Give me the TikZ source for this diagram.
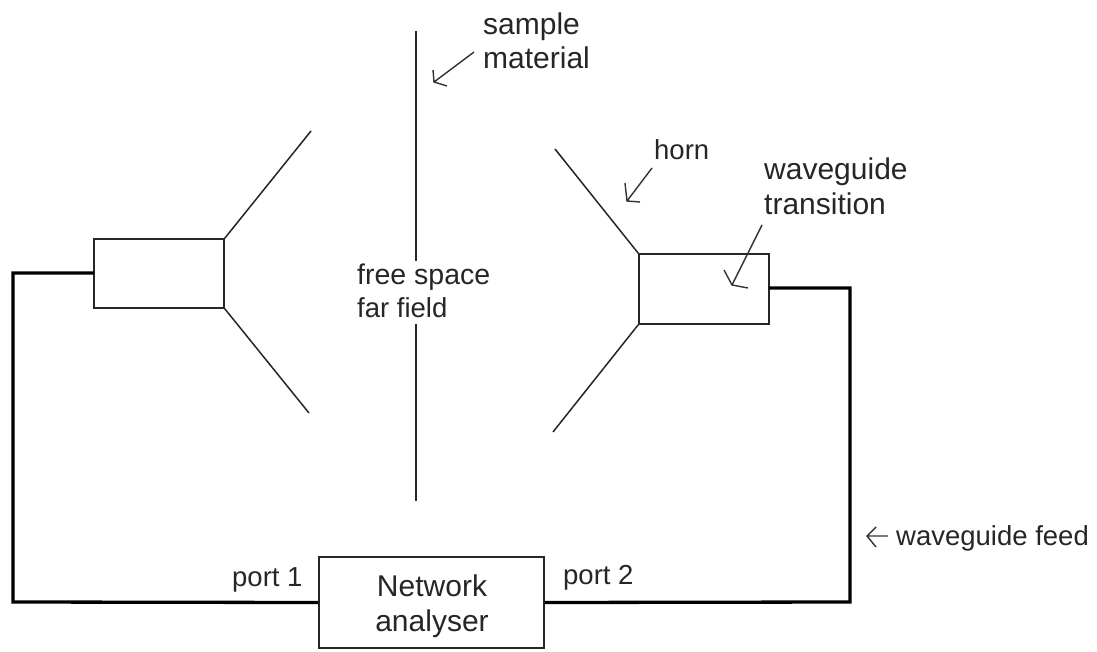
\documentclass[tikz,border=0pt]{standalone}
\usepackage{fontspec}
\setmainfont{Liberation Sans}
\tikzset{
  x=1pt,y=-1pt,
  thinline/.style={line width=1.5pt,draw=black!85},
  thickline/.style={line width=3.3pt,black,line join=miter},
  pointer/.style={line width=1.4pt,draw=black!80},
  box/.style={draw=black!85,line width=1.5pt,minimum width=130pt,inner sep=0pt,fill=white},
  label/.style={inner sep=0pt,font=\fontsize{27.5}{33}\selectfont,text=black!85,align=left,anchor=base west},
  biglabel/.style={label,font=\fontsize{30}{36}\selectfont},
  clabel/.style={biglabel,anchor=base},
}
\begin{document}
\begin{tikzpicture}
\useasboundingbox (0,0) rectangle (1097,652);
\fill[white] (0,0) rectangle (1097,652);
% boxes
\node[box,minimum height=69pt] (L) at (159,273.5) {};
\node[box,minimum height=70pt] (R) at (704,289) {};
\node[box,minimum width=225pt,minimum height=91pt] (NA) at (431.5,602.5) {};
% free ends
\coordinate (LT) at (311,131);
\coordinate (LB) at (309,413);
\coordinate (RT) at (555,149);
\coordinate (RB) at (553,432);
\coordinate (S1) at (416,31);
\coordinate (S1e) at (416,261);
\coordinate (S2s) at (416,324);
\coordinate (S2) at (416,501);
\draw[thinline] (L.north east) -- (LT);
\draw[thinline] (L.south east) -- (LB);
\draw[thinline] (R.north west) -- (RT);
\draw[thinline] (R.south west) -- (RB);
\draw[thinline,line width=2pt] (S1) -- (S1e) (S2s) -- (S2);
% feeds
\coordinate (LF) at (94,273);
\coordinate (RF) at (769,288);
\draw[thickline] (LF) -- (13,273) -- (13,602) -- (NA.west);
\draw[thickline] (RF) -- (850,288) -- (850,602) -- (NA.east);
% labels
\node[biglabel] (sample) at (483,35) {sample};
\node[biglabel] (material) at (483,69) {material};
\node[label] (horn) at (654,160) {horn};
\node[biglabel] (wg) at (764,180) {waveguide};
\node[biglabel] (trans) at (764,215) {transition};
\node[label,font=\fontsize{28.5}{33}\selectfont] (free) at (357,284) {free space};
\node[label] (far) at (357,317) {far field};
\node[clabel] (net) at (432,596) {Network};
\node[clabel] (ana) at (432,631) {analyser};
\node[label] (p1) at (232,586) {port 1};
\node[label] (p2) at (563,584) {port 2};
\node[label] (feed) at (896,545) {waveguide feed};
% pointers
\coordinate (a1) at (474,52); \coordinate (a1t) at (434,82);
\draw[pointer] (a1) -- (a1t) (433,70) -- (a1t) -- (447,86);
\coordinate (a2) at (652,168); \coordinate (a2t) at (627,201);
\draw[pointer] (a2) -- (a2t) (625,183) -- (a2t) -- (640,202);
\coordinate (a3) at (762,225); \coordinate (a3t) at (732,285);
\draw[pointer] (a3) -- (a3t) (724,270) -- (a3t) -- (748,288);
\coordinate (a4) at (888,536); \coordinate (a4t) at (867,536);
\draw[pointer] (a4) -- (a4t) (876,527) -- (a4t) -- (876,547);
\end{tikzpicture}
\end{document}
